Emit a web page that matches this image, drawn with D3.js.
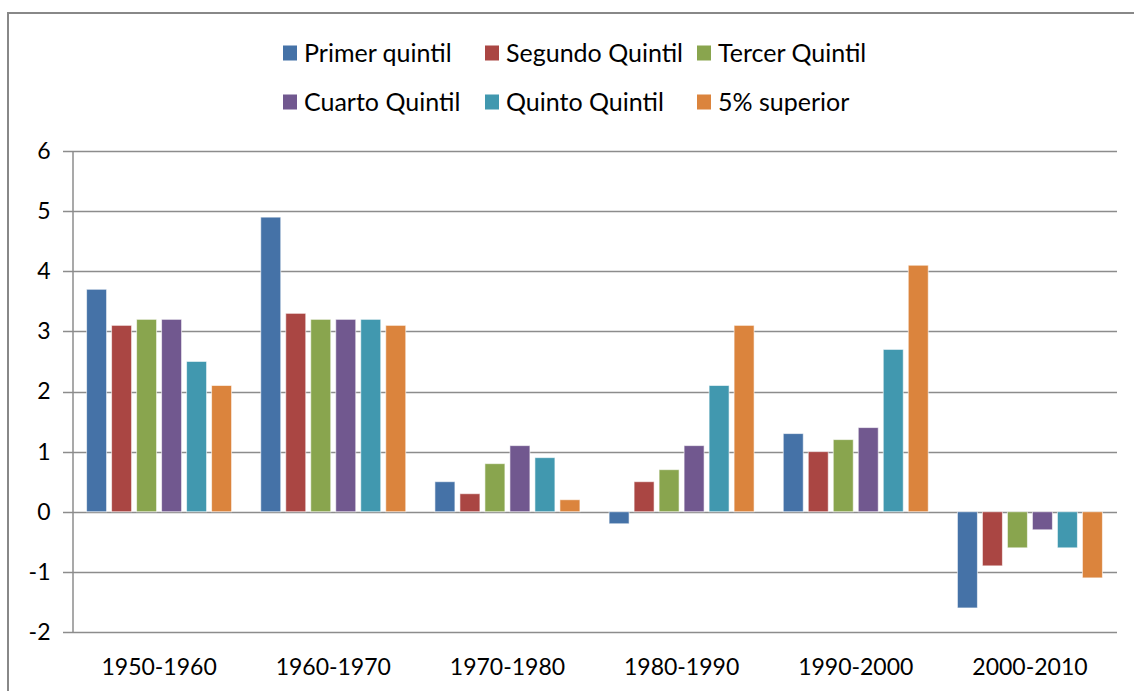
<!DOCTYPE html>
<html>
<head>
<meta charset="utf-8">
<script src="https://cdn.jsdelivr.net/npm/d3@7"></script>
<style>
    body { margin: 0; background: #fff; }
    svg { display: block; font-family: Lato, 'Open Sans', sans-serif; }
</style>
</head>
<body>
<div class="chart"></div>
<script>
    'use strict';

    /* adatok */
    const periods = ['1950-1960', '1960-1970', '1970-1980', '1980-1990', '1990-2000', '2000-2010'];
    const seriesNames = ['Primer quintil', 'Segundo Quintil', 'Tercer Quintil', 'Cuarto Quintil', 'Quinto Quintil', '5% superior'];
    const seriesColors = ['#4572A7', '#AA4643', '#89A54E', '#71588F', '#4198AF', '#DB843D'];
    const primer = [3.7, 4.9, 0.5, -0.2, 1.3, -1.6];
    const segundo = [3.1, 3.3, 0.3, 0.5, 1.0, -0.9];
    const tercer = [3.2, 3.2, 0.8, 0.7, 1.2, -0.6];
    const cuarto = [3.2, 3.2, 1.1, 1.1, 1.4, -0.3];
    const quinto = [2.5, 3.2, 0.9, 2.1, 2.7, -0.6];
    const superior = [2.1, 3.1, 0.2, 3.1, 4.1, -1.1];
    const yTicks = [-2, -1, 0, 1, 2, 3, 4, 5, 6];

    const seriesValues = [primer, segundo, tercer, cuarto, quinto, superior];

    const width = 1134;
    const height = 691;
    const plotLeft = 72, plotRight = 1117, plotTop = 151, plotBottom = 632;

    const svg = d3.select('.chart').append('svg')
        .attr('width', width)
        .attr('height', height);

    /* keret */
    svg.append('rect')
        .attr('x', 8).attr('y', 13)
        .attr('width', width + 10).attr('height', height + 10)
        .attr('fill', 'none')
        .attr('stroke', '#888')
        .attr('stroke-width', 2);

    /* skálák */
    const x0 = d3.scaleBand().domain(periods).range([plotLeft, plotRight]);
    const groupWidth = 150;
    const x1 = d3.scaleBand().domain(seriesNames).range([0, groupWidth]).paddingInner(0.2).paddingOuter(0.1);
    const y = d3.scaleLinear().domain([-2, 6]).range([plotBottom, plotTop]);

    /* rácsvonalak */
    svg.append('g').selectAll('line').data(yTicks).enter().append('line')
        .attr('x1', plotLeft - 9).attr('x2', plotRight)
        .attr('y1', function (d) { return Math.round(y(d)) + 0.5; })
        .attr('y2', function (d) { return Math.round(y(d)) + 0.5; })
        .attr('stroke', '#8c8c8c')
        .attr('stroke-width', 1.5);

    /* y tengely */
    const yAxis = d3.axisLeft(y).tickValues(yTicks).tickSize(0).tickPadding(22).tickFormat(function (d) { return String(d); });
    const yAxisG = svg.append('g')
        .attr('transform', 'translate(' + (plotLeft + 0.5) + ',0)')
        .call(yAxis);
    yAxisG.select('.domain').attr('stroke', '#8c8c8c').attr('stroke-width', 1.5);
    yAxisG.selectAll('text')
        .style('font-size', '23px')
        .style('font-family', 'Lato, sans-serif')
        .attr('fill', '#000');

    /* oszlopok */
    const groups = svg.append('g').selectAll('g').data(periods).enter().append('g')
        .attr('transform', function (d) {
            return 'translate(' + (x0(d) + (x0.bandwidth() - groupWidth) / 2) + ',0)';
        });

    groups.selectAll('rect').data(function (d, i) {
        return seriesNames.map(function (s, j) {
            return { series: s, value: seriesValues[j][i], color: seriesColors[j] };
        });
    }).enter().append('rect')
        .attr('x', function (d) { return x1(d.series); })
        .attr('width', x1.bandwidth())
        .attr('y', function (d) { return y(Math.max(0, d.value)); })
        .attr('height', function (d) { return Math.abs(y(d.value) - y(0)); })
        .attr('fill', function (d) { return d.color; })
        .attr('stroke', '#fff')
        .attr('stroke-opacity', 0.6)
        .attr('stroke-width', 1);

    /* kategória címkék */
    const xAxis = d3.axisBottom(x0).tickSize(0).tickPadding(0);
    const xAxisG = svg.append('g')
        .attr('transform', 'translate(0,' + (plotBottom + 35) + ')')
        .call(xAxis);
    xAxisG.select('.domain').remove();
    xAxisG.selectAll('text')
        .style('font-size', '23px')
        .style('font-family', 'Lato, sans-serif')
        .attr('fill', '#000')
        .attr('dy', '0.35em');

    /* jelmagyarázat */
    const legendCols = [283, 485, 697];
    const legendRows = [53, 102];
    const legend = svg.append('g').attr('class', 'legend');
    const items = legend.selectAll('g').data(seriesNames).enter().append('g')
        .attr('transform', function (d, i) {
            return 'translate(' + legendCols[i % 3] + ',' + legendRows[Math.floor(i / 3)] + ')';
        });
    items.append('rect')
        .attr('x', 0).attr('y', -7.5)
        .attr('width', 14).attr('height', 15)
        .attr('fill', function (d, i) { return seriesColors[i]; });
    items.append('text')
        .attr('x', 21).attr('dy', '0.35em')
        .style('font-size', '25px')
        .attr('fill', '#000')
        .text(function (d) { return d; });
</script>
</body>
</html>
